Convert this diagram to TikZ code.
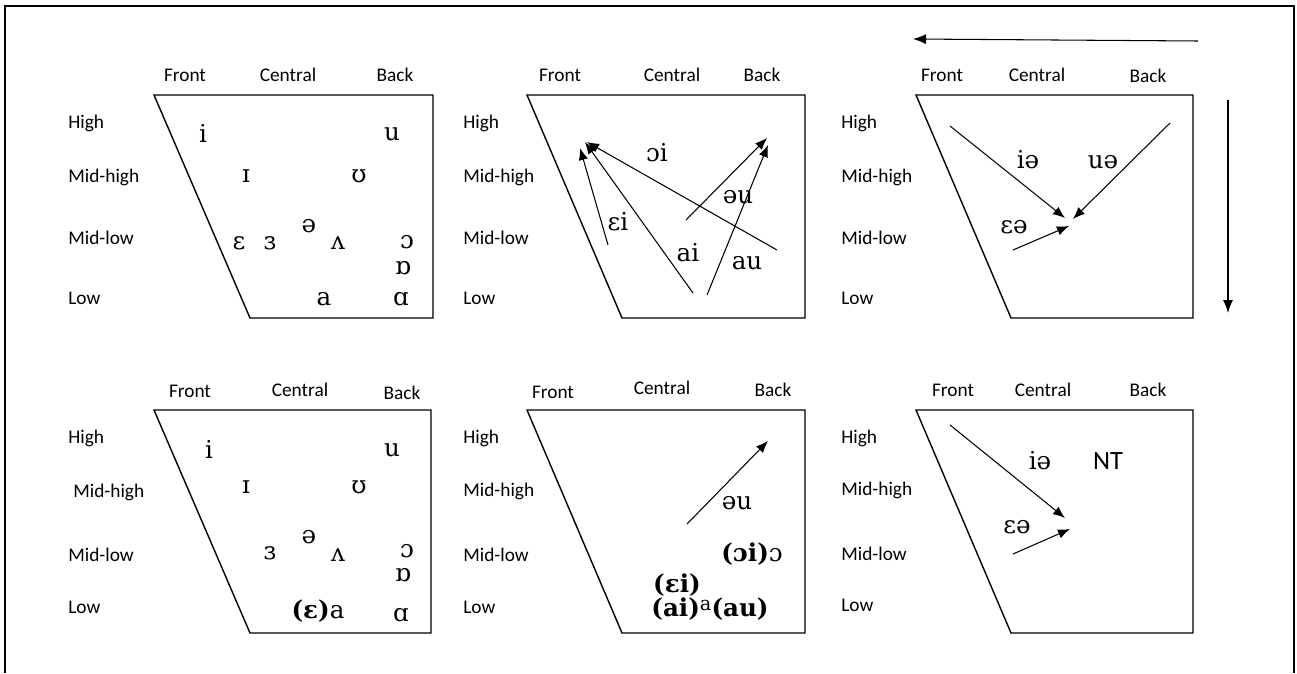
\documentclass[tikz,border=0pt]{standalone}
\usepackage{fontspec}
\setmainfont{Carlito}
\newfontfamily\ipafont{DejaVu Serif}
\usetikzlibrary{arrows.meta}

\tikzset{
  collabel/.style={font=\fontsize{11}{13}\selectfont, inner sep=0pt},
  rowlabel/.style={font=\fontsize{11}{13}\selectfont, anchor=west, inner sep=0pt},
  vowel/.style={font=\ipafont\fontsize{14}{16}\selectfont, inner sep=0pt},
  chart/.style={line width=0.8pt, line join=miter},
  glide/.style={-{Latex[length=2.4mm,width=1.9mm]}, line width=0.6pt},
  axisarrow/.style={-{Latex[length=2.6mm,width=2mm]}, line width=0.6pt},
}

\begin{document}
\begin{tikzpicture}[x=0.02cm, y=-0.02cm]
    \useasboundingbox (0,0) rectangle (1297,673);

    % Outer frame (open at the bottom)
    \draw[line width=1.1pt] (5,673) -- (5,6) -- (1294,6) -- (1294,673);

    % Direction arrows, top right
    \coordinate (h-start) at (1198,41);
    \coordinate (h-end) at (913,39);
    \draw[axisarrow] (h-start) -- (h-end);
    \coordinate (v-start) at (1228,100);
    \coordinate (v-end) at (1228,313);
    \draw[axisarrow] (v-start) -- (v-end);

    % ---------- Panel 1: monophthongs ----------
    \draw[chart] (154,95) -- (433,95) -- (433,318) -- (250,318) -- cycle;
    \node[collabel] (f1) at (185,75) {Front};
    \node[collabel] (c1) at (288,75) {Central};
    \node[collabel] (b1) at (395,75) {Back};
    \node[rowlabel] (h1) at (68,123) {High};
    \node[rowlabel] (mh1) at (68,177) {Mid-high};
    \node[rowlabel] (ml1) at (68,238) {Mid-low};
    \node[rowlabel] (l1) at (68,298) {Low};
    \node[vowel] (i1) at (203,133) {i};
    \node[vowel] (u1) at (392,134) {u};
    \node[vowel] (ih1) at (246,176) {ɪ};
    \node[vowel] (uh1) at (359,176) {ʊ};
    \node[vowel] (e1) at (239,243) {ɛ};
    \node[vowel] (er1) at (270,243) {ɜ};
    \node[vowel] (sw1) at (309,226) {ə};
    \node[vowel] (v1) at (338,243) {ʌ};
    \node[vowel] (o1) at (407,242) {ɔ};
    \node[vowel] (ro1) at (403,268) {ɒ};
    \node[vowel] (a1) at (324,299) {a};
    \node[vowel] (aa1) at (401,299) {ɑ};

    % ---------- Panel 2: closing diphthongs ----------
    \draw[chart] (527,95) -- (805,95) -- (805,318) -- (622,318) -- cycle;
    \node[collabel] (f2) at (560,75) {Front};
    \node[collabel] (c2) at (672,75) {Central};
    \node[collabel] (b2) at (762,75) {Back};
    \node[rowlabel] (h2) at (463,123) {High};
    \node[rowlabel] (mh2) at (463,177) {Mid-high};
    \node[rowlabel] (ml2) at (463,238) {Mid-low};
    \node[rowlabel] (l2) at (463,298) {Low};
    \coordinate (ei-s) at (608,245);
    \coordinate (ei-e) at (580,148);
    \coordinate (ai-s) at (693,293);
    \coordinate (ai-e) at (585,142);
    \coordinate (oi-s) at (777,250);
    \coordinate (oi-e) at (587,142);
    \coordinate (ou-s) at (686,220);
    \coordinate (ou-e) at (767,138);
    \coordinate (au-s) at (707,295);
    \coordinate (au-e) at (768,145);
    \draw[glide] (ei-s) -- (ei-e);
    \draw[glide] (ai-s) -- (ai-e);
    \draw[glide] (oi-s) -- (oi-e);
    \draw[glide] (ou-s) -- (ou-e);
    \draw[glide] (au-s) -- (au-e);
    \node[vowel] (oi2) at (657,153) {ɔi};
    \node[vowel] (ou2) at (738,197) {əu};
    \node[vowel] (ei2) at (618,222) {ɛi};
    \node[vowel] (ai2) at (688,253) {ai};
    \node[vowel] (au2) at (747,263) {au};

    % ---------- Panel 3: centring diphthongs ----------
    \draw[chart] (916,95) -- (1193,95) -- (1193,318) -- (1011,318) -- cycle;
    \node[collabel] (f3) at (942,75) {Front};
    \node[collabel] (c3) at (1037,75) {Central};
    \node[collabel] (b3) at (1148,76) {Back};
    \node[rowlabel] (h3) at (841,123) {High};
    \node[rowlabel] (mh3) at (841,177) {Mid-high};
    \node[rowlabel] (ml3) at (841,238) {Mid-low};
    \node[rowlabel] (l3) at (841,298) {Low};
    \coordinate (ie-s) at (950,126);
    \coordinate (ie-e) at (1065,218);
    \coordinate (ue-s) at (1170,123);
    \coordinate (ue-e) at (1073,219);
    \coordinate (ee-s) at (1013,250);
    \coordinate (ee-e) at (1069,226);
    \draw[glide] (ie-s) -- (ie-e);
    \draw[glide] (ue-s) -- (ue-e);
    \draw[glide] (ee-s) -- (ee-e);
    \node[vowel] (ie3) at (1028,160) {iə};
    \node[vowel] (ue3) at (1103,162) {uə};
    \node[vowel] (ee3) at (1014,227) {ɛə};

    % ---------- Panel 4: monophthongs, second set ----------
    \draw[chart] (154,410) -- (431,410) -- (431,633) -- (250,633) -- cycle;
    \node[collabel] (f4) at (190,391) {Front};
    \node[collabel] (c4) at (300,390) {Central};
    \node[collabel] (b4) at (402,393) {Back};
    \node[rowlabel] (h4) at (68,438) {High};
    \node[rowlabel] (mh4) at (73,492) {Mid-high};
    \node[rowlabel] (ml4) at (68,555) {Mid-low};
    \node[rowlabel] (l4) at (68,607) {Low};
    \node[vowel] (i4) at (209,449) {i};
    \node[vowel] (u4) at (392,450) {u};
    \node[vowel] (ih4) at (246,487) {ɪ};
    \node[vowel] (uh4) at (359,487) {ʊ};
    \node[vowel] (er4) at (270,553) {ɜ};
    \node[vowel] (sw4) at (309,537) {ə};
    \node[vowel] (v4) at (338,555) {ʌ};
    \node[vowel] (o4) at (407,551) {ɔ};
    \node[vowel] (ro4) at (403,575) {ɒ};
    \node[vowel] (a4) at (318,611) {{\bfseries(ɛ)}a};
    \node[vowel] (aa4) at (401,615) {ɑ};

    % ---------- Panel 5: diphthongs, second set ----------
    \draw[chart] (527,410) -- (805,410) -- (805,633) -- (622,633) -- cycle;
    \node[collabel] (f5) at (553,392) {Front};
    \node[collabel] (c5) at (662,388) {Central};
    \node[collabel] (b5) at (773,390) {Back};
    \node[rowlabel] (h5) at (463,438) {High};
    \node[rowlabel] (mh5) at (463,491) {Mid-high};
    \node[rowlabel] (ml5) at (463,555) {Mid-low};
    \node[rowlabel] (l5) at (463,607) {Low};
    \coordinate (ou5-s) at (687,524);
    \coordinate (ou5-e) at (768,441);
    \draw[glide] (ou5-s) -- (ou5-e);
    \node[vowel] (ou5) at (737,503) {əu};
    \node[vowel] (oi5) at (752,554) {{\bfseries(ɔi)}ɔ};
    \node[vowel] (ei5) at (677,585) {\bfseries(ɛi)};
    \node[vowel] (ai5) at (710,609) {{\bfseries(ai)}\raisebox{0.45ex}{\fontsize{11}{12}\selectfont a}{\bfseries(au)}};

    % ---------- Panel 6: centring diphthongs, second set ----------
    \draw[chart] (916,410) -- (1193,410) -- (1193,633) -- (1011,633) -- cycle;
    \node[collabel] (f6) at (953,390) {Front};
    \node[collabel] (c6) at (1043,390) {Central};
    \node[collabel] (b6) at (1148,390) {Back};
    \node[rowlabel] (h6) at (841,438) {High};
    \node[rowlabel] (mh6) at (841,490) {Mid-high};
    \node[rowlabel] (ml6) at (841,554) {Mid-low};
    \node[rowlabel] (l6) at (841,605) {Low};
    \coordinate (ie6-s) at (950,425);
    \coordinate (ie6-e) at (1065,518);
    \coordinate (ee6-s) at (1013,554);
    \coordinate (ee6-e) at (1070,529);
    \draw[glide] (ie6-s) -- (ie6-e);
    \draw[glide] (ee6-s) -- (ee6-e);
    \node[vowel] (ie6) at (1040,461) {iə};
    \node[font=\fontsize{15}{17}\selectfont, inner sep=0pt] (nt6) at (1108,461) {NT};
    \node[vowel] (ee6) at (1017,527) {ɛə};
\end{tikzpicture}
\end{document}
